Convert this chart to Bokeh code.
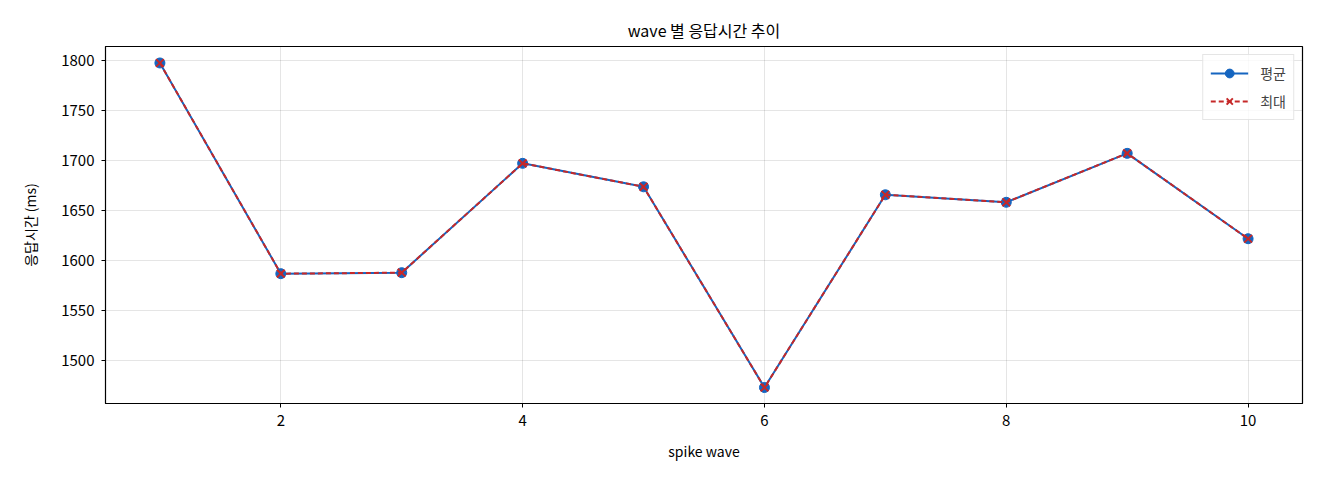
from bokeh.plotting import figure
from bokeh.embed import file_html
from bokeh.resources import INLINE
from bokeh.models import Range1d, FixedTicker, Legend, LegendItem, ColumnDataSource

waves = [1, 2, 3, 4, 5, 6, 7, 8, 9, 10]
avg_ms = [1798, 1587, 1588, 1697.5, 1674, 1473, 1666, 1658.5, 1707.5, 1622]
max_ms = [1798, 1587, 1588, 1697.5, 1674, 1473, 1666, 1658.5, 1707.5, 1622]
x_ticks = [2, 4, 6, 8, 10]
y_ticks = [1500, 1550, 1600, 1650, 1700, 1750, 1800]

FONT = "Noto Sans CJK KR"
BLUE = "#1565c0"
RED = "#c62828"

p = figure(width=1304, height=464, output_backend="svg", toolbar_location=None,
           x_range=Range1d(0.55, 10.45), y_range=Range1d(1457, 1814.5),
           min_border_left=105, min_border_right=2, min_border_top=46, min_border_bottom=61)

p.title.text = "wave 별 응답시간 추이"
p.title.align = "center"
p.title.text_font = FONT
p.title.text_font_size = "16px"
p.title.text_font_style = "normal"
p.title.text_color = "#000000"
p.title.standoff = 10

src = ColumnDataSource(dict(x=waves, avg=avg_ms, mx=max_ms))

l1 = p.line("x", "avg", source=src, line_color=BLUE, line_width=2)
c1 = p.scatter("x", "avg", source=src, size=10, marker="circle", fill_color=BLUE, line_color=BLUE)
l2 = p.line("x", "mx", source=src, line_color=RED, line_width=2, line_dash="5 3")
c2 = p.scatter("x", "mx", source=src, size=11, marker="x", line_color=RED, line_width=2)

legend = Legend(items=[LegendItem(label="평균", renderers=[l1, c1]),
                       LegendItem(label="최대", renderers=[l2, c2])],
                location="top_right")
legend.label_text_font = FONT
legend.label_text_font_size = "14px"
legend.border_line_color = "#cccccc"
legend.border_line_width = 1
legend.background_fill_alpha = 0.8
legend.glyph_width = 38
legend.glyph_height = 22
legend.label_height = 22
legend.spacing = 6
legend.padding = 7
legend.margin = 8
legend.label_standoff = 12
p.add_layout(legend)

p.xaxis.ticker = FixedTicker(ticks=x_ticks)
p.yaxis.ticker = FixedTicker(ticks=y_ticks)
p.xaxis.axis_label = "spike wave"
p.yaxis.axis_label = "응답시간 (ms)"
for ax in (p.xaxis, p.yaxis):
    ax.axis_label_text_font = FONT
    ax.axis_label_text_font_size = "14px"
    ax.axis_label_text_font_style = "normal"
    ax.axis_label_text_color = "#000000"
    ax.major_label_text_font = FONT
    ax.major_label_text_font_size = "15px"
    ax.major_label_text_color = "#000000"
    ax.minor_tick_line_color = None
    ax.major_tick_in = 0
    ax.major_tick_out = 4
    ax.major_tick_line_color = "#000000"
    ax.axis_line_color = "#000000"
    ax.major_label_standoff = 7
p.xaxis.axis_label_standoff = 12
p.yaxis.axis_label_standoff = 18
p.yaxis.major_label_orientation = "horizontal"

p.xgrid.grid_line_color = "#000000"
p.ygrid.grid_line_color = "#000000"
p.xgrid.grid_line_alpha = 0.1
p.ygrid.grid_line_alpha = 0.1
p.outline_line_color = "#000000"
p.outline_line_width = 1.2
p.outline_line_alpha = 1

open("out.html", "w").write(file_html(p, INLINE))
